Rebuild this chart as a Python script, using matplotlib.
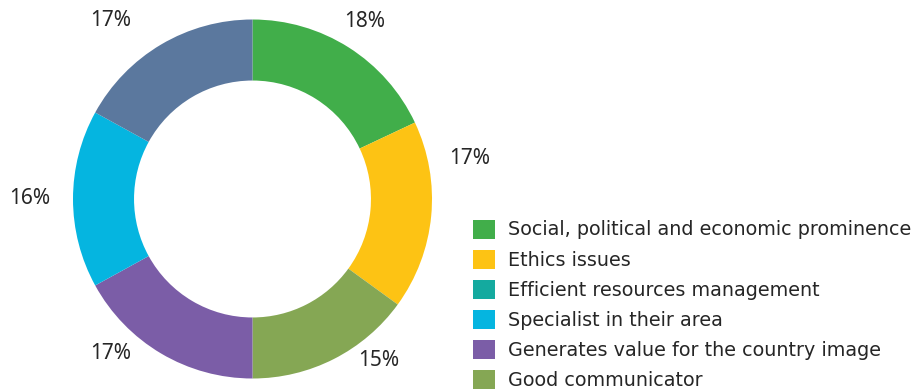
import numpy as np
import matplotlib
matplotlib.use("Agg")
import matplotlib.pyplot as plt
from matplotlib.patches import Patch

# ring slices, clockwise from 12 o'clock
slice_values = [18, 17, 15, 17, 16, 17]
slice_colors = ["#41AE4A", "#FDC314", "#85A754", "#7B5DA7", "#05B5E0", "#5B789E"]

# legend entries
legend_labels = [
    "Social, political and economic prominence",
    "Ethics issues",
    "Efficient resources management",
    "Specialist in their area",
    "Generates value for the country image",
    "Good communicator",
]
legend_colors = ["#41AE4A", "#FDC314", "#14AA9F", "#05B5E0", "#7B5DA7", "#85A754"]

# nudges for the percentage labels (degrees, radius)
label_shift = [0, 16, 11, -12, 0, 8]
label_radius = [1.17, 1.23, 1.14, 1.17, 1.24, 1.27]

W, H, DPI = 916, 390, 100
fig = plt.figure(figsize=(W / DPI, H / DPI), dpi=DPI)

# square axes centred on the ring
cx, cy, R = 252.5, 390 - 199, 179.5
L = 1.3 * R
ax = fig.add_axes([(cx - L) / W, (cy - L) / H, 2 * L / W, 2 * L / H])

wedges, _ = ax.pie(
    slice_values, colors=slice_colors, startangle=90, counterclock=False,
    radius=1.0, wedgeprops=dict(width=0.34, linewidth=0),
)
ax.set_xlim(-1.3, 1.3)
ax.set_ylim(-1.3, 1.3)
ax.set_aspect("equal")
ax.axis("off")

for w, v, d, r in zip(wedges, slice_values, label_shift, label_radius):
    ang = np.deg2rad((w.theta1 + w.theta2) / 2 + d)
    ax.text(r * np.cos(ang), r * np.sin(ang), f"{v}%", ha="center", va="center",
            fontsize=15, family="Noto Sans", color="#262626")

handles = [Patch(facecolor=c, edgecolor="none") for c in legend_colors]
fig.legend(handles, legend_labels, loc="upper left",
           bbox_to_anchor=(463 / W, 1 - 210 / H), frameon=False,
           fontsize=13.75, handlelength=1.15, handleheight=1.15,
           handletextpad=0.72, labelspacing=0.53, borderpad=0,
           labelcolor="#262626")

fig.savefig("out.png", dpi=DPI)
